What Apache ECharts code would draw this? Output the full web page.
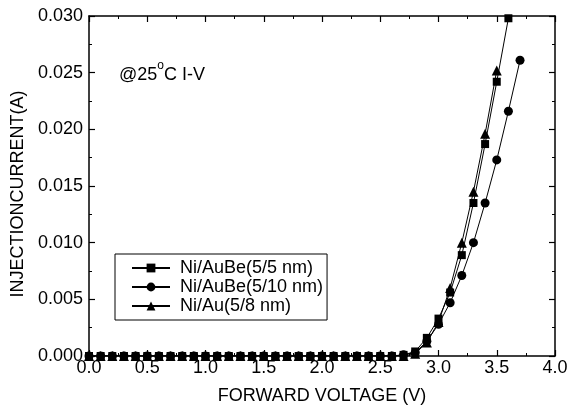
<!DOCTYPE html>
<html>
<head>
<meta charset="utf-8">
<script src="https://cdn.jsdelivr.net/npm/echarts@6/dist/echarts.min.js"></script>
<style>
  html, body { margin: 0; padding: 0; background: #fff; }
  #chart { width: 572px; height: 410px; }
</style>
</head>
<body>
<div id="chart"></div>
<script>
const voltage = [0.0, 0.1, 0.2, 0.3, 0.4, 0.5, 0.6, 0.7, 0.8, 0.9,
  1.0, 1.1, 1.2, 1.3, 1.4, 1.5, 1.6, 1.7, 1.8, 1.9,
  2.0, 2.1, 2.2, 2.3, 2.4, 2.5, 2.6, 2.7, 2.8, 2.9,
  3.0, 3.1, 3.2, 3.3, 3.4, 3.5, 3.6, 3.7];

const auBe55 = [0, 0, 0, 0, 0, 0, 0, 0, 0, 0,
  0, 0, 0, 0, 0, 0, 0, 0, 0, 0,
  0, 0, 0, 0, 0, 0, 0, 0.0001, 0.0004, 0.0016,
  0.0033, 0.0056, 0.0089, 0.0135, 0.0187, 0.0242, 0.0298];

const auBe510 = [0, 0, 0, 0, 0, 0, 0, 0, 0, 0,
  0, 0, 0, 0, 0, 0, 0, 0, 0, 0,
  0, 0, 0, 0, 0, 0, 0, 0.0001, 0.0003, 0.0013,
  0.0028, 0.0047, 0.0071, 0.0100, 0.0135, 0.0173, 0.0216, 0.0261];

const au58 = [0, 0, 0, 0, 0, 0, 0, 0, 0, 0,
  0, 0, 0, 0, 0, 0, 0, 0, 0, 0,
  0, 0, 0, 0, 0, 0, 0, 0, 0.0002, 0.0012,
  0.0030, 0.0060, 0.0100, 0.0145, 0.0196, 0.0252];

const names = ['Ni/AuBe(5/5 nm)', 'Ni/AuBe(5/10 nm)', 'Ni/Au(5/8 nm)'];

const font = 'Liberation Sans, Arial, sans-serif';
const fs = 18;
const pair = (ys) => ys.map((y, i) => [voltage[i], y]);

const axisBase = {
  axisLine: { show: true, onZero: false, lineStyle: { color: '#000', width: 1.5 } },
  axisTick: { show: true, inside: true, length: 6, lineStyle: { color: '#000', width: 1.2 } },
  minorTick: { show: true, splitNumber: 2, length: 3, lineStyle: { color: '#000', width: 1 } },
  splitLine: { show: false }
};

const chart = echarts.init(document.getElementById('chart'));

const mk = (name, ys, symbol, size) => ({
  name,
  type: 'line',
  data: pair(ys),
  symbol,
  symbolSize: size,
  showAllSymbol: true,
  lineStyle: { color: '#000', width: 1 },
  itemStyle: { color: '#000' },
  animation: false
});

chart.setOption({
  animation: false,
  grid: { left: 89, right: 17, top: 16, bottom: 53 },
  xAxis: [
    Object.assign({}, axisBase, {
      type: 'value', min: 0, max: 4, interval: 0.5,
      name: 'FORWARD VOLTAGE (V)', nameLocation: 'middle', nameGap: 31,
      nameTextStyle: { fontFamily: font, fontSize: fs, color: '#000' },
      axisLabel: { fontFamily: font, fontSize: fs, color: '#000', margin: 3, formatter: (v) => v.toFixed(1) }
    }),
    Object.assign({}, axisBase, {
      type: 'value', min: 0, max: 4, interval: 0.5, position: 'top',
      axisLabel: { show: false }
    })
  ],
  yAxis: [
    Object.assign({}, axisBase, {
      type: 'value', min: 0, max: 0.03, interval: 0.005,
      name: 'INJECTIONCURRENT(A)', nameLocation: 'middle', nameGap: 61,
      nameTextStyle: { fontFamily: font, fontSize: fs, color: '#000', padding: [0, 16, 0, 0] },
      axisLabel: { fontFamily: font, fontSize: fs, color: '#000', margin: 6, formatter: (v) => v.toFixed(3) }
    }),
    Object.assign({}, axisBase, {
      type: 'value', min: 0, max: 0.03, interval: 0.005, position: 'right',
      axisLabel: { show: false }
    })
  ],
  legend: {
    orient: 'vertical',
    left: 115,
    top: 254,
    padding: [5, 4, 5, 16],
    borderColor: '#000',
    borderWidth: 1,
    itemWidth: 38,
    itemHeight: 11,
    itemGap: 1,
    data: names,
    textStyle: { fontFamily: font, fontSize: fs, color: '#000', padding: [0, 0, 0, 5] }
  },
  graphic: [{
    type: 'text',
    left: 119,
    top: 60,
    style: {
      text: '{a|@25}{s|o}{a|C I-V}',
      rich: {
        a: { fontFamily: font, fontSize: fs, fill: '#000', lineHeight: 24, verticalAlign: 'bottom' },
        s: { fontFamily: font, fontSize: 12, fill: '#000', lineHeight: 24, verticalAlign: 'top', padding: [0, 0, 10, 0] }
      }
    }
  }],
  series: [
    mk(names[0], auBe55, 'rect', 8),
    mk(names[1], auBe510, 'circle', 9),
    mk(names[2], au58, 'triangle', 10)
  ]
});
</script>
</body>
</html>
